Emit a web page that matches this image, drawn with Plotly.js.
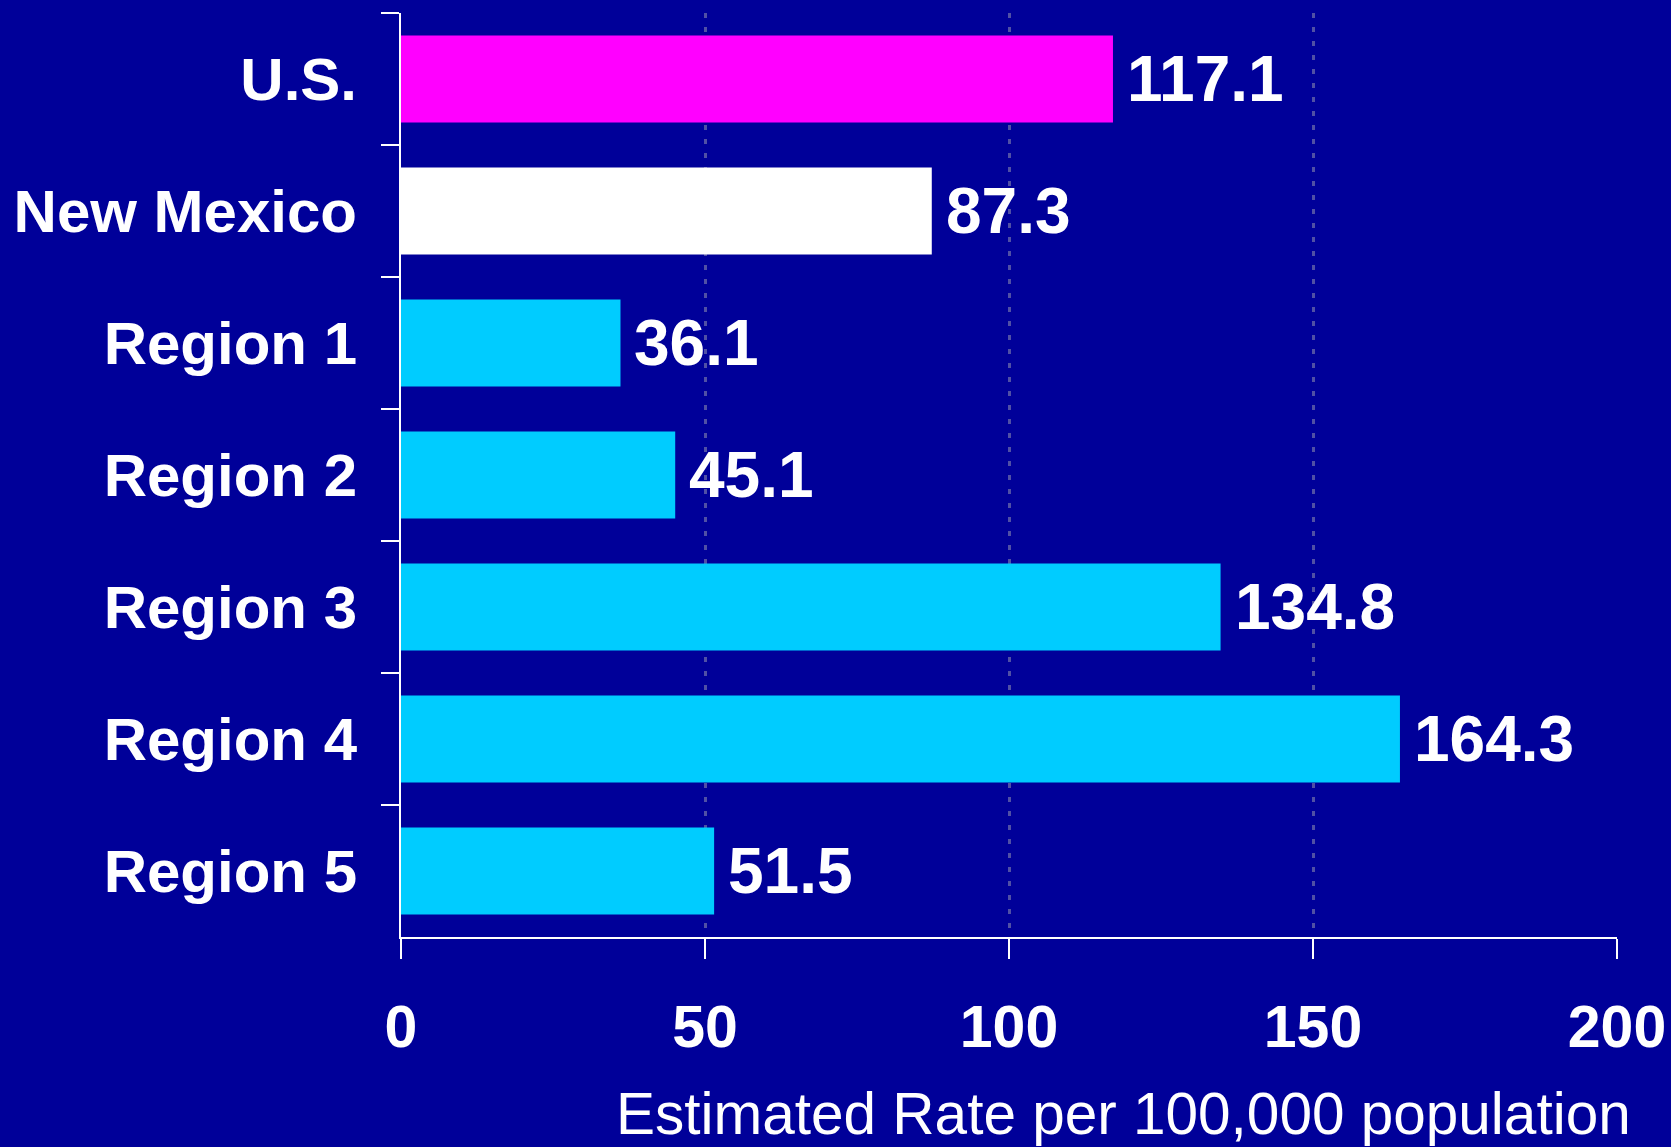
<!DOCTYPE html>
<html>
<head>
<meta charset="utf-8">
<script src="https://cdn.plot.ly/plotly-3.0.1.min.js"></script>
<style>
  html, body { margin: 0; padding: 0; background: #000099; }
  #chart { width: 1671px; height: 1147px; }
</style>
</head>
<body>
<div id="chart"></div>
<script>
const categories = ["U.S.", "New Mexico", "Region 1", "Region 2", "Region 3", "Region 4", "Region 5"];
const rates = [117.1, 87.3, 36.1, 45.1, 134.8, 164.3, 51.5];
const barColors = ["#FF00FF", "#FFFFFF", "#00CCFF", "#00CCFF", "#00CCFF", "#00CCFF", "#00CCFF"];
const xTickValues = [0, 50, 100, 150, 200];
const xAxisTitle = "Estimated Rate per 100,000 population";

const FONT = "Liberation Sans, Arial, sans-serif";

const trace = {
  type: "bar",
  orientation: "h",
  y: categories,
  x: rates,
  width: 0.66,
  marker: { color: barColors, line: { width: 0 } },
  hoverinfo: "none"
};

const annotations = categories.map((c, i) => ({
  x: rates[i],
  y: c,
  xref: "x",
  yref: "y",
  text: rates[i].toFixed(1),
  showarrow: false,
  xanchor: "left",
  yanchor: "middle",
  xshift: 12,
  yshift: 0,
  font: { family: FONT, size: 64, color: "#FFFFFF", weight: "bold" }
}));

annotations.push({
  xref: "paper",
  yref: "paper",
  x: 1.0135,
  y: -0.154,
  xanchor: "right",
  yanchor: "top",
  showarrow: false,
  text: xAxisTitle,
  font: { family: FONT, size: 58.5, color: "#FFFFFF" }
});

const layout = {
  width: 1671,
  height: 1147,
  paper_bgcolor: "#000099",
  plot_bgcolor: "#000099",
  margin: { l: 401, r: 54, t: 13, b: 210 },
  showlegend: false,
  font: { family: FONT, color: "#FFFFFF" },
  xaxis: {
    range: [0, 200],
    tickvals: xTickValues,
    ticktext: xTickValues.map(String),
    ticks: "outside",
    ticklen: 20,
    tickwidth: 2,
    tickcolor: "#FFFFFF",
    showline: true,
    linecolor: "#FFFFFF",
    linewidth: 2,
    showgrid: true,
    gridcolor: "rgb(80,80,165)",
    gridwidth: 3,
    griddash: "5px,9px",
    zeroline: false,
    tickfont: { family: FONT, size: 59, color: "#FFFFFF", weight: "bold" },
    ticklabelstandoff: 17,
    fixedrange: true
  },
  yaxis: {
    type: "category",
    categoryorder: "array",
    categoryarray: categories,
    autorange: "reversed",
    tickson: "boundaries",
    ticks: "outside",
    ticklen: 18,
    tickwidth: 2,
    tickcolor: "#FFFFFF",
    showline: true,
    linecolor: "#FFFFFF",
    linewidth: 2,
    showgrid: false,
    zeroline: false,
    tickfont: { family: FONT, size: 60, color: "#FFFFFF", weight: "bold" },
    ticklabelstandoff: 30,
    fixedrange: true
  },
  annotations: annotations
};

Plotly.newPlot("chart", [trace], layout, { displayModeBar: false, staticPlot: true });
</script>
</body>
</html>
